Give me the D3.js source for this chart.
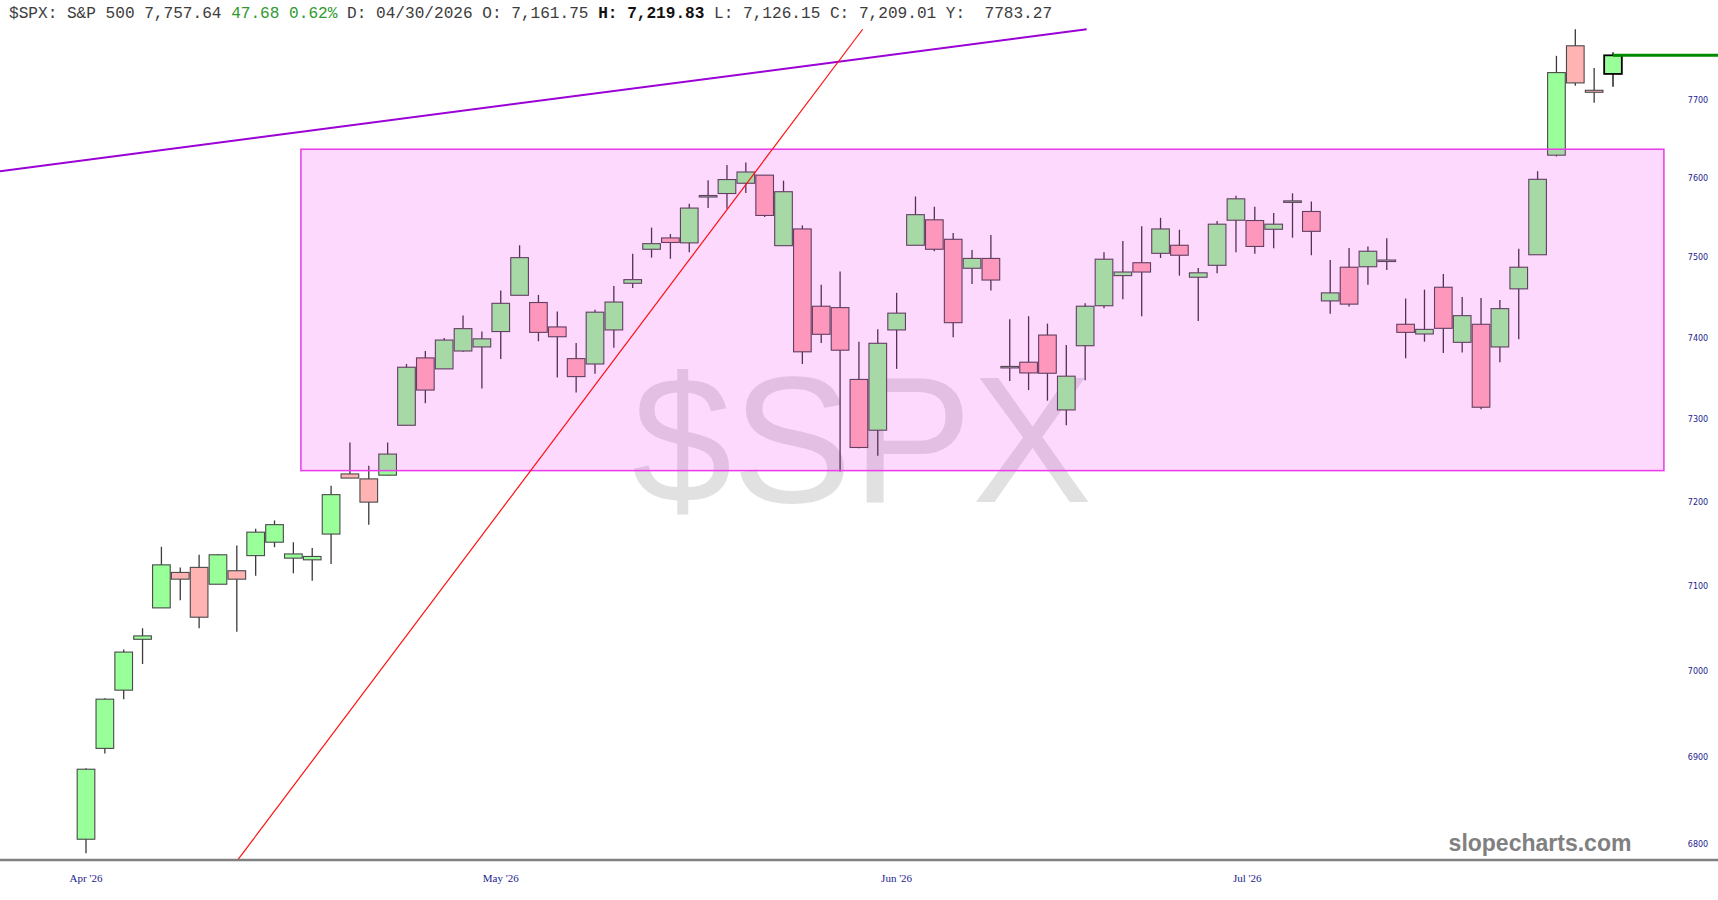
<!DOCTYPE html>
<html>
<head>
<meta charset="utf-8">
<script src="https://cdn.jsdelivr.net/npm/d3@7"></script>
<style>
  html, body { margin: 0; padding: 0; background: #fff; overflow: hidden; }
  svg { display: block; }
  text { white-space: pre; }
</style>
</head>
<body>
<script>

// candle data, one entry per trading session
var opens = [6806, 6910, 6977.5, 7037, 7074, 7116, 7122, 7102, 7118, 7136,
  7152, 7133, 7131, 7161.75, 7234, 7228, 7232.5, 7293, 7375.5, 7362,
  7384, 7389, 7408, 7453, 7444, 7413.7, 7374.6, 7368, 7410, 7468,
  7510.5, 7524.7, 7518.5, 7578.2, 7580.7, 7593.7, 7604, 7515, 7536, 7439.4,
  7437.7, 7349, 7287, 7410, 7515.5, 7547.5, 7523, 7486.7, 7499, 7365,
  7370.2, 7403.7, 7311.7, 7390.5, 7440, 7477.5, 7493.6, 7505.4, 7515.5, 7475.5,
  7490.4, 7547, 7546.6, 7535.6, 7571.4, 7558, 7446, 7488, 7488.6, 7497,
  7417, 7405, 7463, 7394.7, 7417, 7389, 7461, 7503.6, 7629.4, 7770,
  7712.5, 7733.6];
var highs = [6887, 6968, 7025, 7050, 7146.5, 7122, 7137, 7138, 7148, 7168,
  7178, 7152, 7145, 7219.83, 7272, 7244, 7272, 7368, 7384, 7400,
  7428, 7408, 7459, 7515.5, 7453.5, 7433, 7394, 7435, 7464.7, 7505,
  7537.7, 7529.6, 7567.7, 7597.5, 7617, 7620, 7604, 7597, 7540.5, 7466,
  7482.5, 7395.5, 7411, 7456, 7577, 7564, 7531, 7509.6, 7528.5, 7423.3,
  7427, 7417.8, 7391.4, 7443, 7506.6, 7521, 7539.5, 7550, 7535, 7487,
  7546, 7578, 7564, 7556, 7581, 7570.6, 7497, 7512, 7514, 7524.4,
  7449, 7460, 7479.4, 7451, 7449.6, 7447, 7511, 7609, 7757, 7791.5,
  7741.4, 7761.7];
var lows = [6790, 6904, 6967, 7008, 7074, 7083, 7050, 7102, 7046, 7112,
  7146, 7115, 7106, 7126.15, 7229, 7173, 7232, 7293, 7320, 7362,
  7383, 7338, 7374, 7453, 7396, 7351.5, 7333, 7356, 7388, 7462,
  7500, 7498.6, 7506.6, 7562.3, 7561.5, 7581.5, 7551, 7515, 7368, 7394,
  7237, 7265, 7256, 7362, 7515.5, 7508, 7401, 7467, 7459, 7347,
  7336, 7323, 7293, 7348, 7437, 7448, 7427, 7499.5, 7477.5, 7421,
  7480.4, 7506.6, 7505, 7511.7, 7525, 7503, 7430, 7439, 7466, 7484.6,
  7375, 7395.5, 7381.6, 7382, 7312.5, 7370, 7398.4, 7503.6, 7627.7, 7718.5,
  7696.6, 7717];
var closes = [6886, 6967, 7022, 7041, 7125, 7108, 7063, 7137, 7108, 7164,
  7173, 7138, 7135, 7209.01, 7229, 7200, 7258, 7364, 7336, 7397.5,
  7411.6, 7399, 7443, 7500, 7407, 7401.6, 7352.5, 7432, 7444.6, 7472.5,
  7517.5, 7519, 7562.3, 7578.2, 7598.4, 7608, 7553, 7583, 7383, 7404.6,
  7385, 7266, 7393.5, 7430.8, 7554, 7510.5, 7419, 7499, 7472, 7365,
  7357, 7356.6, 7353, 7439.4, 7498, 7482, 7482, 7536, 7503, 7481,
  7542, 7574, 7514, 7542, 7571.4, 7533, 7456, 7442, 7508, 7497,
  7407, 7410.7, 7412, 7427.7, 7315, 7436.4, 7488, 7598.7, 7735.3, 7722,
  7709.96, 7757.64];

// month labels and the session index they sit under
var monthLabels = ["Apr '26", "May '26", "Jun '26", "Jul '26"];
var monthIndex = [0, 22, 43, 61.6];

// price axis labels
var priceTicks = [6800, 6900, 7000, 7100, 7200, 7300, 7400, 7500, 7600, 7700];

// drawn annotations: [session index, price]
var purpleLine = [[-4.56, 7609], [53.08, 7791.5]];
var redLine = [[8.05, 6782.5], [41.2, 7791.5]];
var zoneIndex = [11.4, 83.7];
var zonePrice = [7238, 7637];

var lastPrice = 7757.64;

var candles = opens.map(function(o, i) {
  return { i: i, open: o, high: highs[i], low: lows[i], close: closes[i] };
});

var width = 1718,
  height = 900;

var svg = d3.select("body").append("svg")
  .attr("width", width)
  .attr("height", height);

// x: session index, y: log price
var x = d3.scaleLinear().domain([0, candles.length - 1]).range([86, 1613]);
var y = d3.scaleLog().domain([6800, 7700]).range([844.5, 100]);
var step = x(1) - x(0);

// big watermark behind everything
svg.append("text")
  .attr("x", 862)
  .attr("y", 502)
  .attr("text-anchor", "middle")
  .attr("font-family", "Liberation Sans, Arial, sans-serif")
  .attr("font-size", 180)
  .attr("fill", "#e1e1e1")
  .text("$SPX");

// candles
var g = svg.append("g");

g.selectAll(".wick")
  .data(candles)
  .enter().append("line")
  .attr("class", "wick")
  .attr("x1", function(d) { return x(d.i); })
  .attr("x2", function(d) { return x(d.i); })
  .attr("y1", function(d) { return y(d.high); })
  .attr("y2", function(d) { return y(d.low); })
  .attr("stroke", function(d, i) { return i == candles.length - 1 ? "#000" : "#3a3a3a"; })
  .attr("stroke-width", 1.3);

g.selectAll(".body")
  .data(candles)
  .enter().append("rect")
  .attr("class", "body")
  .attr("x", function(d) { return x(d.i) - step / 2 + 0.6; })
  .attr("width", step - 1.2)
  .attr("y", function(d) { return y(Math.max(d.open, d.close)); })
  .attr("height", function(d) {
    return Math.max(Math.abs(y(d.open) - y(d.close)), 1.5);
  })
  .attr("fill", function(d) { return d.close >= d.open ? "#99ff99" : "#ffb3b3"; })
  .attr("stroke", function(d, i) { return i == candles.length - 1 ? "#000" : "#4a4a4a"; })
  .attr("stroke-width", function(d, i) { return i == candles.length - 1 ? 1.8 : 1.1; });

// translucent zone box on top of the candles
svg.append("rect")
  .attr("x", x(zoneIndex[0]))
  .attr("y", y(zonePrice[1]))
  .attr("width", x(zoneIndex[1]) - x(zoneIndex[0]))
  .attr("height", y(zonePrice[0]) - y(zonePrice[1]))
  .attr("fill", "rgba(240,0,240,0.15)")
  .attr("stroke", "#ea3aea")
  .attr("stroke-width", 1.5);

// trend lines
var line = d3.line()
  .x(function(d) { return x(d[0]); })
  .y(function(d) { return y(d[1]); });

svg.append("path")
  .datum(purpleLine)
  .attr("d", line)
  .attr("fill", "none")
  .attr("stroke", "#9b00d6")
  .attr("stroke-width", 2);

svg.append("path")
  .datum(redLine)
  .attr("d", line)
  .attr("fill", "none")
  .attr("stroke", "#ff1010")
  .attr("stroke-width", 1.2);

// last price marker
svg.append("line")
  .attr("x1", x(candles.length - 1))
  .attr("x2", width)
  .attr("y1", y(lastPrice))
  .attr("y2", y(lastPrice))
  .attr("stroke", "#008a00")
  .attr("stroke-width", 3);

// bottom axis line
svg.append("line")
  .attr("x1", 0)
  .attr("x2", width)
  .attr("y1", 860)
  .attr("y2", 860)
  .attr("stroke", "#808080")
  .attr("stroke-width", 2.5);

// price labels on the right
svg.selectAll(".ptick")
  .data(priceTicks)
  .enter().append("text")
  .attr("class", "ptick")
  .attr("x", 1698)
  .attr("y", function(d) { return y(d); })
  .attr("dy", "0.35em")
  .attr("text-anchor", "middle")
  .attr("font-family", "DejaVu Sans, Verdana, sans-serif")
  .attr("font-size", 8)
  .attr("fill", "#1c1c8e")
  .text(function(d) { return d; });

// month labels
svg.selectAll(".mtick")
  .data(monthLabels)
  .enter().append("text")
  .attr("class", "mtick")
  .attr("x", function(d, i) { return x(monthIndex[i]); })
  .attr("y", 882)
  .attr("text-anchor", "middle")
  .attr("font-family", "Liberation Serif, Times New Roman, serif")
  .attr("font-size", 11)
  .attr("fill", "#1c1c8e")
  .text(function(d) { return d; });

// site name
svg.append("text")
  .attr("x", 1540)
  .attr("y", 851)
  .attr("text-anchor", "middle")
  .attr("font-family", "Liberation Sans, Arial, sans-serif")
  .attr("font-weight", "bold")
  .attr("font-size", 23)
  .attr("fill", "#808080")
  .text("slopecharts.com");

// header line
var header = svg.append("text")
  .attr("x", 9)
  .attr("y", 17.5)
  .attr("font-family", "Liberation Mono, Courier New, monospace")
  .attr("font-size", 16.1)
  .attr("fill", "#3c3c3c");

header.append("tspan").text("$SPX: S&P 500 7,757.64 ");
header.append("tspan").attr("fill", "#2f9a2f").text("47.68 0.62%");
header.append("tspan").text(" D: 04/30/2026 O: 7,161.75 ");
header.append("tspan").attr("font-weight", "bold").attr("fill", "#111").text("H: 7,219.83");
header.append("tspan").text(" L: 7,126.15 C: 7,209.01 Y:  7783.27");

</script>
</body>
</html>
